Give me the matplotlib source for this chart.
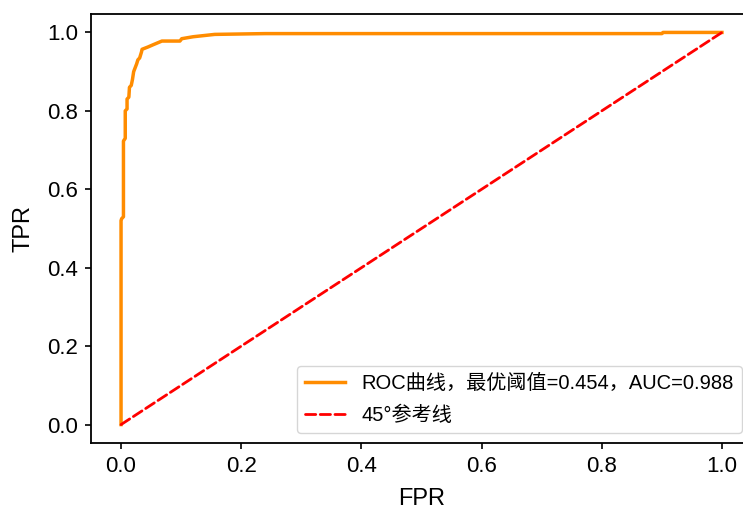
import matplotlib
matplotlib.use("Agg")
import matplotlib.pyplot as plt

# ROC curve corners
fpr = [0.0, 0.0, 0.001, 0.004, 0.004, 0.007, 0.007, 0.010, 0.010, 0.013,
       0.014, 0.017, 0.019, 0.021, 0.026, 0.028, 0.031, 0.034, 0.035, 0.045,
       0.054, 0.068, 0.098, 0.101, 0.120, 0.156, 0.240, 0.900, 0.902, 1.0]
tpr = [0.0, 0.520, 0.525, 0.530, 0.723, 0.730, 0.800, 0.805, 0.830, 0.835,
       0.860, 0.865, 0.880, 0.900, 0.920, 0.930, 0.935, 0.950, 0.957, 0.963,
       0.969, 0.978, 0.978, 0.984, 0.989, 0.995, 0.997, 0.997, 1.0, 1.0]
diag = [0.0, 1.0]

roc_label = "ROC曲线，最优阈值=0.454，AUC=0.988"
ref_label = "45°参考线"

plt.rcParams['font.family'] = ['Liberation Sans', 'Noto Sans CJK SC', 'DejaVu Sans']
plt.rcParams['axes.unicode_minus'] = False

fig = plt.figure(figsize=(7.43, 5.12), dpi=100)
ax = fig.add_axes([91 / 743, 69 / 512, 661 / 743, 429 / 512])

ax.plot(fpr, tpr, color="darkorange", lw=2.5, label=roc_label)
ax.plot(diag, diag, color="red", lw=2.0, linestyle="--",
        dash_capstyle="round", label=ref_label)

ax.set_xlim(-0.05, 1.05)
ax.set_ylim(-0.047, 1.047)
ax.set_xticks([0.0, 0.2, 0.4, 0.6, 0.8, 1.0])
ax.set_yticks([0.0, 0.2, 0.4, 0.6, 0.8, 1.0])
ax.tick_params(labelsize=16, width=1.2, length=4.5, pad=5)
for s in ax.spines.values():
    s.set_linewidth(1.3)

ax.set_xlabel("FPR", fontsize=17, labelpad=8)
ax.set_ylabel("TPR", fontsize=17, labelpad=9)
ax.legend(loc="lower right", fontsize=14.5, labelspacing=0.6)

fig.savefig("out.png", dpi=100)
